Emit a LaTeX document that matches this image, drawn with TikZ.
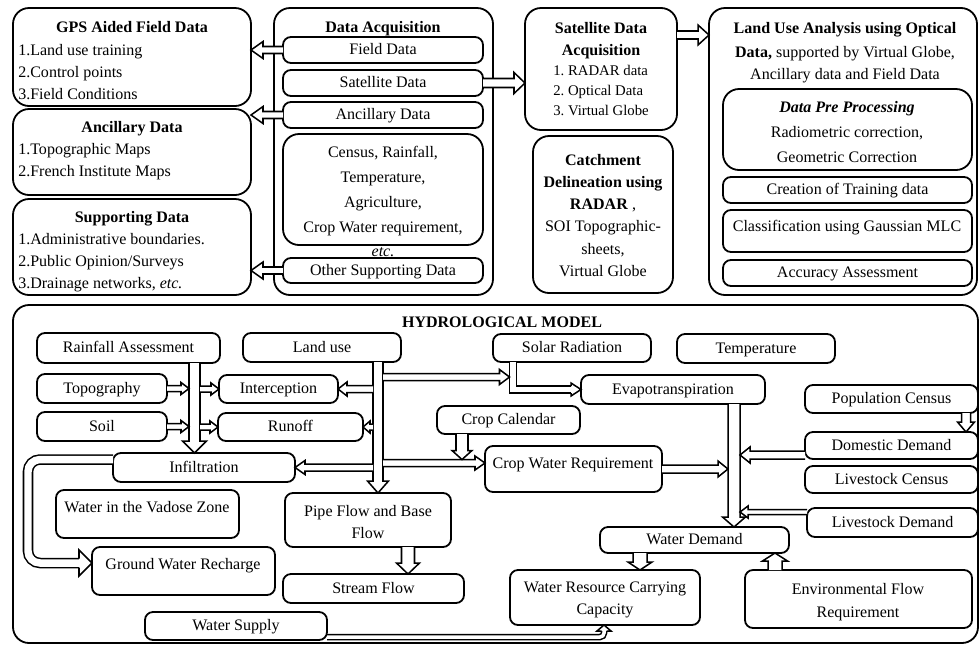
\documentclass[tikz,border=0pt]{standalone}
\usepackage{fontspec}
\setmainfont{Liberation Serif}
\usetikzlibrary{calc}
\newcommand{\harr}[5]{%
  \pgfmathsetlengthmacro{\hS}{#1*0.25mm}%
  \pgfmathsetlengthmacro{\hH}{#2*0.25mm}%
  \pgfmathsetlengthmacro{\hL}{#3*0.25mm}%
  \coordinate (hA) at (#4);%
  \coordinate (hB) at (#5);%
  \coordinate (hP) at ($(hB)!\hL!(hA)$);%
  \filldraw[arr] ($(hA)!\hS!90:(hB)$) -- ($(hP)!\hS!90:(hB)$) -- ($(hP)!\hH!90:(hB)$) -- (hB) -- ($(hP)!\hH!-90:(hB)$) -- ($(hP)!\hS!-90:(hB)$) -- ($(hA)!\hS!-90:(hB)$);%
}
\newcommand{\hhead}[5]{%
  \pgfmathsetlengthmacro{\hS}{#1*0.25mm}%
  \pgfmathsetlengthmacro{\hH}{#2*0.25mm}%
  \pgfmathsetlengthmacro{\hL}{#3*0.25mm}%
  \coordinate (hA) at (#4);%
  \coordinate (hB) at (#5);%
  \coordinate (hP) at ($(hB)!\hL!(hA)$);%
  \filldraw[arr] ($(hP)!\hS!90:(hB)$) -- ($(hP)!\hH!90:(hB)$) -- (hB) -- ($(hP)!\hH!-90:(hB)$) -- ($(hP)!\hS!-90:(hB)$);%
}
\newcommand{\mkbox}[7][]{\node[box,#1,minimum width={(#5-#3)*0.25mm},minimum height={(#6-#4)*0.25mm}] (#2) at ({(#3+#5)/2},{(#4+#6)/2}) {#7};}
\begin{document}
\begin{tikzpicture}[x=0.25mm,y=-0.25mm,
  every node/.append style={font=\fontsize{11.4}{13.7}\selectfont},
  box/.style={draw, line width=0.45mm, rounded corners=2mm, inner sep=0pt, outer sep=0pt, text height=0.66em, text depth=0pt, align=center},
  bigbox/.style={rounded corners=4mm},
  t/.style={inner sep=0pt, anchor=base, yshift=-1.45mm},
  tl/.style={t, anchor=base west},
  sm/.style={font=\fontsize{10.5}{12}\selectfont},
  arr/.style={draw, fill=white, line width=0.38mm, line join=miter},
  hstem/.style={draw, line width=0.38mm, double=white, double distance=#1}]
\useasboundingbox (0,0) rectangle (980,645);

% ---------- top left boxes
\mkbox[bigbox]{gps}{13}{8}{251}{106}{}
\node[t] (gpsT) at (132,27) {\textbf{GPS Aided Field Data}};
\node[tl] (gps1) at (18,50) {1.Land use training};
\node[tl] (gps2) at (18,72) {2.Control points};
\node[tl] (gps3) at (18,94) {3.Field Conditions};

\mkbox[bigbox]{anc}{13}{109}{251}{195}{}
\node[t] (ancT) at (132,127) {\textbf{Ancillary Data}};
\node[tl] (anc1) at (18,149) {1.Topographic Maps};
\node[tl] (anc2) at (18,171) {2.French Institute Maps};

\mkbox[bigbox]{sup}{13}{199}{251}{295}{}
\node[t] (supT) at (132,217) {\textbf{Supporting Data}};
\node[tl] (sup1) at (18,239) {1.Administrative boundaries.};
\node[tl] (sup2) at (18,261) {2.Public Opinion/Surveys};
\node[tl] (sup3) at (18,283) {3.Drainage networks, \textit{etc.}};

% ---------- data acquisition
\mkbox[bigbox]{da}{274}{8}{493}{295}{}
\node[t] (daT) at (383,27) {\textbf{Data Acquisition}};
\mkbox{fd}{283}{37}{483}{63}{Field Data}
\mkbox{sd}{283}{70}{483}{96}{Satellite Data}
\mkbox{ad}{283}{102}{483}{128}{Ancillary Data}
\mkbox[bigbox]{cen}{283}{134}{483}{245}{}
\node[t] (cen1) at (383,152) {Census, Rainfall,};
\node[t] (cen2) at (383,177) {Temperature,};
\node[t] (cen3) at (383,202) {Agriculture,};
\node[t] (cen4) at (383,227) {Crop Water requirement,};
\node[t] (etc) at (383,251) {\textit{etc.}};
\mkbox{osd}{283}{258}{483}{283}{Other Supporting Data}

% ---------- satellite data acquisition
\mkbox[bigbox]{sda}{525}{8}{677}{130}{}
\node[t] (sdaT1) at (601,28) {\textbf{Satellite Data}};
\node[t] (sdaT2) at (601,50) {\textbf{Acquisition}};
\node[tl,sm] (sda1) at (553,70) {1.\ RADAR data};
\node[tl,sm] (sda2) at (553,90) {2.\ Optical Data};
\node[tl,sm] (sda3) at (553,110) {3.\ Virtual Globe};

\mkbox[bigbox]{cat}{533}{136}{673}{293}{}
\node[t] (cat1) at (603,160) {\textbf{Catchment}};
\node[t] (cat2) at (603,182) {\textbf{Delineation using}};
\node[t] (cat3) at (603,204) {\textbf{RADAR} ,};
\node[t] (cat4) at (603,226) {SOI Topographic-};
\node[t] (cat5) at (603,249) {sheets,};
\node[t] (cat6) at (603,271) {Virtual Globe};

% ---------- land use analysis
\mkbox[bigbox]{lua}{709}{8}{977}{295}{}
\node[t] (lua1) at (845,28) {\textbf{Land Use Analysis using Optical}};
\node[t] (lua2) at (845,52) {\textbf{Data,} supported by Virtual Globe,};
\node[t] (lua3) at (845,74) {Ancillary data and Field Data};
\mkbox[bigbox]{dpp}{723}{89}{972}{170}{}
\node[t] (dpp1) at (847,107) {\textbf{\textit{Data Pre Processing}}};
\node[t] (dpp2) at (847,132) {Radiometric correction,};
\node[t] (dpp3) at (847,157) {Geometric Correction};
\mkbox{ctd}{723}{177}{972}{203}{Creation of Training data}
\mkbox{cls}{723}{210}{972}{252}{}
\node[t] (clsT) at (847,226) {Classification using Gaussian MLC};
\mkbox{acc}{723}{260}{972}{286}{Accuracy Assessment}

% ---------- top arrows
\harr{3.5}{8.5}{12}{fd.west}{fd.west -| gps.east}
\harr{3.5}{8.5}{12}{ad.west}{ad.west -| anc.east}
\harr{3.5}{8.5}{12}{osd.west}{osd.west -| sup.east}
\harr{4.5}{10.5}{11}{sd.east}{sd.east -| sda.west}
\coordinate (y35) at (0,35);
\harr{4}{10}{11}{y35 -| sda.east}{y35 -| lua.west}

% ---------- hydrological model
\mkbox[bigbox]{hyd}{13}{305}{978}{643}{}
\node[t] (hydT) at (502,322) {\textbf{HYDROLOGICAL MODEL}};

\mkbox{rain}{37}{333}{220}{363}{Rainfall Assessment}
\mkbox{land}{243}{333}{401}{362}{Land use}
\mkbox{solar}{493}{334}{651}{362}{Solar Radiation}
\mkbox{temp}{677}{334}{835}{363}{Temperature}
\mkbox{topo}{37}{374}{167}{403}{Topography}
\mkbox{inter}{219}{375}{338}{403}{Interception}
\mkbox{evap}{581}{375}{765}{404}{Evapotranspiration}
\mkbox{pop}{805}{385}{978}{413}{Population Census}
\mkbox{soil}{37}{412}{167}{441}{Soil}
\mkbox{run}{218}{413}{363}{441}{Runoff}
\mkbox{cal}{437}{406}{580}{434}{Crop Calendar}
\mkbox{dom}{805}{432}{978}{459}{Domestic Demand}
\mkbox{inf}{113}{453}{295}{482}{Infiltration}
\mkbox{cwr}{485}{446}{662}{492}{}
\node[t] (cwrT) at (573,463) {Crop Water Requirement};
\mkbox{lsc}{805}{466}{978}{493}{Livestock Census}
\mkbox{vad}{56}{490}{239}{538}{}
\node[t] (vadT) at (147,507) {Water in the Vadose Zone};
\mkbox{pipe}{285}{493}{451}{547}{}
\node[t] (pipe1) at (368,511) {Pipe Flow and Base};
\node[t] (pipe2) at (368,533) {Flow};
\mkbox{lsd}{807}{508}{978}{537}{Livestock Demand}
\mkbox{wd}{600}{527}{789}{553}{Water Demand}
\mkbox{gwr}{92}{547}{275}{595}{}
\node[t] (gwrT) at (183,564) {Ground Water Recharge};
\mkbox{sf}{283}{574}{464}{603}{Stream Flow}
\mkbox{wrcc}{510}{570}{700}{625}{}
\node[t] (wrcc1) at (605,587) {Water Resource Carrying};
\node[t] (wrcc2) at (605,609) {Capacity};
\mkbox{env}{745}{570}{972}{628}{}
\node[t] (env1) at (858,589) {Environmental Flow};
\node[t] (env2) at (858,612) {Requirement};
\mkbox{ws}{145}{612}{327}{640}{Water Supply}

% ---------- hydro arrows
\coordinate (xr) at (194.5,0);
\coordinate (xrl) at (189,0);
\coordinate (xrr) at (200,0);
\harr{5.5}{12}{12}{rain.south -| xr}{inf.north -| xr}
\harr{3}{6}{8}{topo.east}{topo.east -| xrl}
\harr{3}{6}{8}{inter.west -| xrr}{inter.west}
\harr{3}{6}{8}{soil.east}{soil.east -| xrl}
\harr{3}{6}{8}{run.west -| xrr}{run.west}

\coordinate (xl) at (378,0);
\coordinate (xll) at (373,0);
\coordinate (xlr) at (383,0);
\harr{5}{10.5}{12}{land.south -| xl}{pipe.north -| xl}
\harr{3.5}{7}{9}{inter.east -| xll}{inter.east}
\harr{3}{6}{7}{run.east -| xll}{run.east}
\harr{3.5}{7}{10}{inf.east -| xll}{inf.east}
\coordinate (y463) at (0,463);
\harr{3.5}{7}{10}{y463 -| xlr}{y463 -| cwr.west}

\coordinate (xs) at (513,0);
\coordinate (xsl) at (509.5,0);
\coordinate (y377) at (0,377);
\draw[hstem=1.37mm] (solar.south -| xs) |- ($(evap.west)+(-10,0)$);
\hhead{3.5}{6.5}{10}{evap.west -| xs}{evap.west}
\harr{3.5}{7.5}{10}{y377 -| xlr}{y377 -| xsl}

\coordinate (xc) at (462,0);
\coordinate (y459) at (0,459.5);
\harr{6}{10}{9}{cal.south -| xc}{y459 -| xc}

\coordinate (xe) at (734,0);
\coordinate (xel) at (728,0);
\coordinate (xer) at (740,0);
\harr{6}{11.5}{10}{evap.south -| xe}{wd.north -| xe}
\harr{4}{8}{10}{cwr.east}{cwr.east -| xel}
\coordinate (y455) at (0,455);
\harr{4}{8}{10}{y455 -| dom.west}{y455 -| xer}
\coordinate (y512) at (0,512);
\harr{2.5}{6}{8}{y512 -| lsd.west}{y512 -| xer}

\coordinate (xp) at (966,0);
\harr{4.5}{8.5}{10}{pop.south -| xp}{dom.north -| xp}
\coordinate (xw) at (640,0);
\harr{7}{12}{8}{wd.south -| xw}{wrcc.north -| xw}
\coordinate (xv) at (775,0);
\harr{7}{12.5}{8}{env.north -| xv}{wd.south -| xv}
\coordinate (xpp) at (408,0);
\harr{6.5}{11.5}{11}{pipe.south -| xpp}{sf.north -| xpp}

\coordinate (y4595) at (0,459.5);
\coordinate (xlp) at (28,0);
\coordinate (y563) at (0,563);
\draw[hstem=1.87mm, rounded corners=3mm] (y4595 -| inf.west) -| (y563 -| xlp) -- ($(y563 -| gwr.west)+(-13,0)$);
\hhead{4.5}{13}{13}{y563 -| xlp}{y563 -| gwr.west}

\coordinate (y637) at (0,637);
\coordinate (xws) at (604,0);
\draw[hstem=0.87mm, rounded corners=1mm] (y637 -| ws.east) -| ($(wrcc.south -| xws)+(0,6)$);
\hhead{2.5}{7}{6}{y637 -| xws}{wrcc.south -| xws}
\end{tikzpicture}
\end{document}
